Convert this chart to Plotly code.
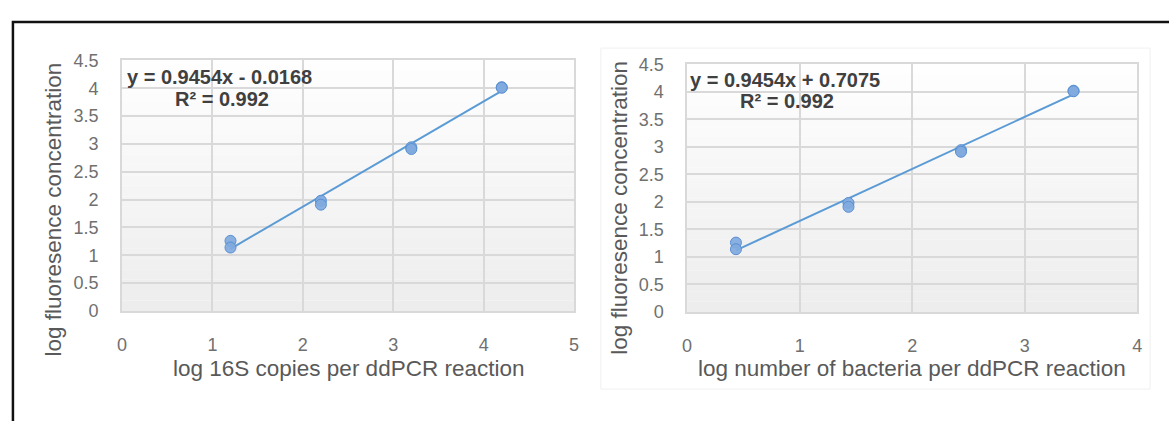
import plotly.graph_objects as go

# ---- data ----
fluor_y = [1.26, 1.14, 1.98, 1.91, 2.94, 2.91, 4.02, 4.01]
copies_16s_x = [1.2, 1.2, 2.2, 2.2, 3.2, 3.2, 4.2, 4.2]
bacteria_x = [0.434, 0.434, 1.434, 1.434, 2.434, 2.434, 3.434, 3.434]

slope = 0.9454
intercept_left = -0.0168
intercept_right = 0.7075
r2 = 0.992

left_eq = "y = 0.9454x - 0.0168"
right_eq = "y = 0.9454x + 0.7075"
r2_text = "R² = 0.992"

left_xtitle = "log 16S copies per ddPCR reaction"
right_xtitle = "log number of bacteria per ddPCR reaction"
ytitle = "log fluoresence concentration"

W, H = 1169, 421

def px(x):
    return x / W

def py(y):
    return 1 - y / H

fig = go.Figure()

marker = dict(size=11, color="rgba(128,170,222,0.92)", line=dict(color="#5a8fd2", width=1))
line_col = "#5b9bd5"

lx = [min(copies_16s_x), max(copies_16s_x)]
fig.add_trace(go.Scatter(x=lx, y=[slope * v + intercept_left for v in lx], mode="lines",
                         line=dict(color=line_col, width=2), xaxis="x", yaxis="y", hoverinfo="skip"))
fig.add_trace(go.Scatter(x=copies_16s_x, y=fluor_y, mode="markers", marker=marker, xaxis="x", yaxis="y"))

rx = [min(bacteria_x), max(bacteria_x)]
fig.add_trace(go.Scatter(x=rx, y=[slope * v + intercept_right for v in rx], mode="lines",
                         line=dict(color=line_col, width=2), xaxis="x2", yaxis="y2", hoverinfo="skip"))
fig.add_trace(go.Scatter(x=bacteria_x, y=fluor_y, mode="markers", marker=marker, xaxis="x2", yaxis="y2"))

tick_font = dict(family="Liberation Sans, Arial", size=18, color="#707070")
grid = "#d9d9d9"

def xaxis(domain, rng, dtick, anchor):
    return dict(domain=domain, range=rng, dtick=dtick, anchor=anchor, showgrid=True, gridcolor=grid,
                gridwidth=1.5, showline=True, linecolor=grid, linewidth=1.5, mirror=True,
                zeroline=False, ticks="", tickfont=tick_font, ticklabelstandoff=17, fixedrange=True)

def yaxis(domain, anchor):
    return dict(domain=domain, range=[0, 4.5], dtick=0.5, anchor=anchor, showgrid=True, gridcolor=grid,
                gridwidth=1.5, showline=True, linecolor=grid, linewidth=1.5, mirror=True,
                zeroline=False, ticks="", tickfont=tick_font, ticklabelstandoff=18, fixedrange=True)

left_dom_x = [px(118), px(574)]
left_dom_y = [py(316), py(53)]
right_dom_x = [px(688), px(1142)]
right_dom_y = [py(317), py(57)]

shapes = []
n = 24
for xr, yr in (("x domain", "y domain"), ("x2 domain", "y2 domain")):
    for i in range(n):
        g = int(255 - 18 * (i + 0.5) / n)
        shapes.append(dict(type="rect", xref=xr, yref=yr, x0=0, x1=1, y0=1 - (i + 1) / n, y1=1 - i / n,
                           fillcolor=f"rgb({g},{g},{g})", line=dict(width=0), layer="below"))

shapes.append(dict(type="rect", xref="paper", yref="paper", x0=px(601), x1=px(1155), y0=py(398), y1=py(40),
                   line=dict(color="#f0f0f0", width=1), layer="below"))
shapes.append(dict(type="rect", xref="paper", yref="paper", x0=px(8), x1=1.05, y0=-0.1, y1=py(12.5),
                   line=dict(color="#111111", width=2.5), layer="above"))

eq_font = dict(family="Liberation Sans, Arial", size=20, color="#404040")
title_font = dict(family="Liberation Sans, Arial", size=22.5, color="#595959")

annotations = [
    dict(text=f"<b>{left_eq}</b>", x=px(121), y=py(70), xref="paper", yref="paper", xanchor="left",
         yanchor="middle", showarrow=False, font=eq_font),
    dict(text=f"<b>{r2_text}</b>", x=px(169), y=py(93), xref="paper", yref="paper", xanchor="left",
         yanchor="middle", showarrow=False, font=eq_font),
    dict(text=f"<b>{right_eq}</b>", x=px(689), y=py(74), xref="paper", yref="paper", xanchor="left",
         yanchor="middle", showarrow=False, font=eq_font),
    dict(text=f"<b>{r2_text}</b>", x=px(739), y=py(96), xref="paper", yref="paper", xanchor="left",
         yanchor="middle", showarrow=False, font=eq_font),
    dict(text=left_xtitle, x=px(346), y=py(376), xref="paper", yref="paper", xanchor="center",
         yanchor="middle", showarrow=False, font=title_font),
    dict(text=right_xtitle, x=px(915), y=py(376), xref="paper", yref="paper", xanchor="center",
         yanchor="middle", showarrow=False, font=title_font),
    dict(text=ytitle, x=px(48), y=py(210), xref="paper", yref="paper", xanchor="center",
         yanchor="middle", showarrow=False, font=title_font, textangle=-90),
    dict(text=ytitle, x=px(619), y=py(208), xref="paper", yref="paper", xanchor="center",
         yanchor="middle", showarrow=False, font=title_font, textangle=-90),
]

fig.update_layout(
    width=W, height=H, margin=dict(l=0, r=0, t=0, b=0),
    paper_bgcolor="white", plot_bgcolor="white", showlegend=False,
    xaxis=xaxis(left_dom_x, [0, 5], 1, "y"),
    yaxis=yaxis(left_dom_y, "x"),
    xaxis2=xaxis(right_dom_x, [0, 4], 1, "y2"),
    yaxis2=yaxis(right_dom_y, "x2"),
    shapes=shapes, annotations=annotations,
)

fig.write_html("out.html", config={"displayModeBar": False})
